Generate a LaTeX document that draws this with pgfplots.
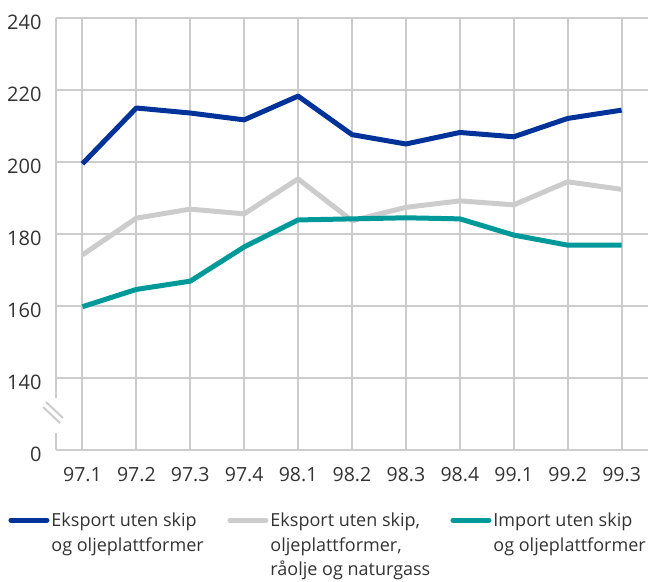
\documentclass[border=0pt]{standalone}
\usepackage{pgfplots}
\pgfplotsset{compat=1.18}
\usepackage{fontspec}
\setmainfont{Open Sans}
\definecolor{cblue}{RGB}{0,51,153}
\definecolor{cgray}{RGB}{204,204,204}
\definecolor{cteal}{RGB}{0,153,153}
\definecolor{ctext}{RGB}{51,51,51}
\newcommand{\lentp}[2]{\begin{tabular}[t]{@{}p{#1}@{}}#2\end{tabular}}
\newcommand{\lentl}[1]{\begin{tabular}[t]{@{}l@{}}#1\end{tabular}}
\begin{document}
\begin{tikzpicture}
\begin{axis}[name=ax, scale only axis, width=592pt, height=432pt,
  xmin=-0.49, xmax=10.49, ymin=120, ymax=240,
  xtick={0,...,10},
  xticklabels={97.1,97.2,97.3,97.4,98.1,98.2,98.3,98.4,99.1,99.2,99.3},
  ytick={120,140,160,180,200,220,240},
  yticklabels={0,140,160,180,200,220,240},
  axis x line*=bottom, axis y line*=left,
  axis line style={-, cgray, line width=2pt},
  grid=major, major grid style={cgray, line width=2pt},
  major tick length=0pt,
  tick label style={text=ctext},
  xticklabel style={font=\fontsize{19.5}{19.5}\selectfont, yshift=-14pt},
  yticklabel style={font=\fontsize{20}{20}\selectfont, xshift=-11pt, yshift=-4.5pt},
  legend columns=3,
  legend style={at={(axis description cs:-0.0803,-0.1330)}, anchor=north west,
    draw=none, fill=none, inner sep=0pt, outer sep=0pt, column sep=0pt,
    font=\fontsize{18}{24.5}\selectfont,
    cells={anchor=base west, inner xsep=2pt, inner ysep=0pt, text=ctext}},
  legend image code/.code={\draw[#1, line cap=round] (0pt,6.5pt) -- (36pt,6.5pt);},
]
\addplot[cblue, line width=5pt, line join=round] coordinates {
 (0,199.5) (1,215.0) (2,213.6) (3,211.7) (4,218.3) (5,207.6) (6,205.0) (7,208.2) (8,207.0) (9,212.1) (10,214.4)};
\addlegendentry{\lentp{174pt}{Eksport uten skip\\og oljeplattformer}}
\addplot[cgray, line width=5pt, line join=round] coordinates {
 (0,174.2) (1,184.4) (2,186.9) (3,185.6) (4,195.3) (5,183.7) (6,187.4) (7,189.2) (8,188.1) (9,194.5) (10,192.4)};
\addlegendentry{\lentp{178pt}{Eksport uten skip,\\oljeplattformer,\\råolje og naturgass}}
\addplot[cteal, line width=5pt, line join=round] coordinates {
 (0,159.8) (1,164.6) (2,166.9) (3,176.4) (4,183.9) (5,184.2) (6,184.5) (7,184.2) (8,179.7) (9,176.9) (10,176.9)};
\addlegendentry{\lentl{Import uten skip\\og oljeplattformer}}
\end{axis}
% axis break
\fill[white] ([xshift=-3pt,yshift=17pt]ax.south west) rectangle ([xshift=3pt,yshift=52pt]ax.south west);
\draw[cgray, line width=2pt] ([xshift=-10pt,yshift=48pt]ax.south west) -- ([xshift=7pt,yshift=32pt]ax.south west);
\draw[cgray, line width=2pt] ([xshift=-13pt,yshift=43pt]ax.south west) -- ([xshift=4pt,yshift=27pt]ax.south west);
\path ([xshift=-56pt,yshift=-132pt]ax.south west) rectangle ([xshift=5pt,yshift=18pt]ax.north east);
\end{tikzpicture}
\end{document}
